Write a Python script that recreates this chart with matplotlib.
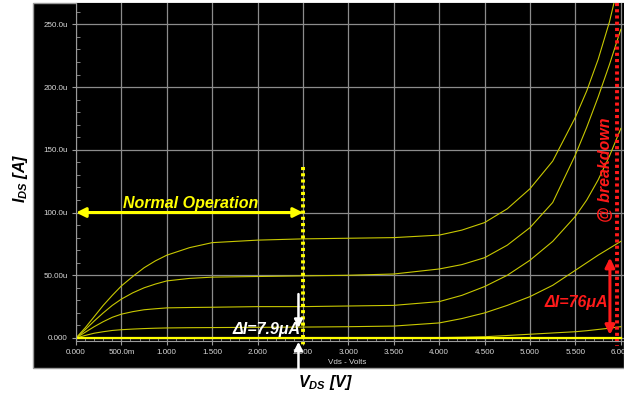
import matplotlib
matplotlib.use("Agg")
import matplotlib.pyplot as plt
from matplotlib.patches import Rectangle
from matplotlib.ticker import MultipleLocator, FixedLocator, FixedFormatter

plt.rcParams['font.family'] = ['Liberation Sans', 'DejaVu Sans']
plt.rcParams['mathtext.fontset'] = 'custom'
plt.rcParams['mathtext.it'] = 'Liberation Sans:italic:bold'
plt.rcParams['mathtext.rm'] = 'Liberation Sans:bold'

# Vds sweep (V) and drain current per gate step (uA)
vds = [0.0, 0.1, 0.2, 0.3, 0.4, 0.5, 0.625, 0.75, 0.875, 1.0, 1.25, 1.5,
       2.0, 2.5, 3.0, 3.5, 4.0, 4.25, 4.5, 4.75, 5.0, 5.25, 5.5, 5.625,
       5.75, 5.875, 6.0]
ids_a = [0, 8, 17, 26, 34, 41.5, 49, 56, 61.5, 66, 72, 76,
         78, 79, 79.5, 80, 82, 86, 92, 103, 119, 141, 176, 197,
         222, 252, 290]
ids_b = [0, 6.5, 13.5, 20, 26, 31, 36, 40, 43, 45.5, 47.5, 48.5,
         49, 49.5, 50, 51, 55, 58.5, 64, 74, 88, 108, 146, 168,
         192, 218, 246]
ids_c = [0, 4.5, 9, 13, 16.5, 19, 21, 22.5, 23.3, 24, 24.3, 24.5,
         25, 25, 25.5, 26, 29, 34, 41, 50, 62, 77, 97, 110,
         126, 145, 167]
ids_d = [0, 2, 3.8, 5, 6, 6.6, 7.1, 7.5, 7.8, 8, 8.2, 8.3,
         8.5, 8.7, 9, 9.5, 12, 15.5, 20, 26, 33, 42, 54, 60,
         66, 71.5, 77]
ids_e = [0, 0.2, 0.3, 0.3, 0.3, 0.3, 0.3, 0.3, 0.3, 0.3, 0.3, 0.3,
         0.3, 0.3, 0.3, 0.3, 0.3, 0.6, 1, 2, 3, 4, 5, 5.8,
         6.8, 7.8, 9]
ids_f = [0] * len(vds)
curves = [ids_a, ids_b, ids_c, ids_d, ids_e]

xticks = [0.0, 0.5, 1.0, 1.5, 2.0, 2.5, 3.0, 3.5, 4.0, 4.5, 5.0, 5.5, 6.0]
xlabels = ['0.000', '500.0m', '1.000', '1.500', '2.000', '2.500', '3.000',
           '3.500', '4.000', '4.500', '5.000', '5.500', '6.000']
yticks = [0, 50, 100, 150, 200, 250]
ylabels = ['0.000', '50.00u', '100.0u', '150.0u', '200.0u', '250.0u']

W, H = 624, 395
fig = plt.figure(figsize=(W / 100, H / 100), dpi=100)
fig.patch.set_facecolor('white')

# black scope window behind the plot
fig.patches.append(Rectangle((33 / W, 27 / H), 1 - 33 / W, 365 / H,
                             transform=fig.transFigure, facecolor='black',
                             edgecolor='#9a9a9a', linewidth=1, zorder=-5))

ax = fig.add_axes([76 / W, 54 / H, 548 / W, 338 / H])
ax.set_zorder(1)
ax.set_facecolor('black')
ax.set_xlim(0, 6.035)
ax.set_ylim(-2.4, 267)

for s in ['top', 'right']:
    ax.spines[s].set_visible(False)
for s in ['left', 'bottom']:
    ax.spines[s].set_color('#9a9a9a')

ax.xaxis.set_major_locator(FixedLocator(xticks))
ax.xaxis.set_major_formatter(FixedFormatter(xlabels))
ax.yaxis.set_major_locator(FixedLocator(yticks))
ax.yaxis.set_major_formatter(FixedFormatter(ylabels))
ax.xaxis.set_minor_locator(MultipleLocator(0.1))
ax.yaxis.set_minor_locator(MultipleLocator(10))
ax.tick_params(which='major', direction='out', length=3, color='#9a9a9a',
               labelcolor='#d8d8d8', labelsize=5.8, pad=3)
ax.tick_params(which='minor', direction='in', length=3, color='#9a9a9a')
ax.grid(True, which='major', color='#8c8c8c', linewidth=0.9)
ax.set_axisbelow(True)

for ids in curves:
    ax.plot(vds, ids, color='#c8c800', linewidth=0.8)
ax.plot(vds, ids_f, color='#ffff00', linewidth=1.6)

# normal operation span
ax.annotate('', xy=(0.0, 100), xytext=(2.5, 100),
            arrowprops=dict(arrowstyle='<|-|>', color='#ffff00', lw=2.2,
                            mutation_scale=14, shrinkA=0, shrinkB=0))
ax.text(1.26, 107, 'Normal Operation', color='#ffff00', fontsize=11.5,
        fontweight='bold', fontstyle='italic', ha='center', va='center')
ax.plot([2.5, 2.5], [136, -6], color='#ffff00', linewidth=2.8,
        linestyle=(0, (0.8, 0.8)), clip_on=False)

# delta I at 2.5 V
ax.annotate('', xy=(2.45, 8), xytext=(2.45, 35),
            arrowprops=dict(arrowstyle='-|>', color='white', lw=1.8,
                            mutation_scale=12, shrinkA=0, shrinkB=0))
ax.annotate('', xy=(2.45, -3), xytext=(2.45, -27),
            arrowprops=dict(arrowstyle='-|>', color='white', lw=1.8,
                            mutation_scale=12, shrinkA=0, shrinkB=0),
            annotation_clip=False)
ax.text(2.47, 6.4, 'ΔI=7.9μA', color='white', fontsize=11.5,
        fontweight='bold', fontstyle='italic', ha='right', va='center')

# breakdown
ax.plot([5.96, 5.96], [267, -6], color='#ff1a1a', linewidth=2.8,
        linestyle=(0, (0.8, 0.8)), clip_on=False)
ax.text(5.83, 134, '@ breakdown', color='#ff1a1a', fontsize=11.5,
        fontweight='bold', fontstyle='italic', rotation=90,
        ha='center', va='center')
ax.annotate('', xy=(5.88, 2.5), xytext=(5.88, 64),
            arrowprops=dict(arrowstyle='<|-|>', color='#ff1a1a', lw=2.2,
                            mutation_scale=14, shrinkA=0, shrinkB=0))
ax.text(5.86, 28, 'ΔI=76μA', color='#ff1a1a', fontsize=11.5,
        fontweight='bold', fontstyle='italic', ha='right', va='center')

fig.text(347 / W, 1 - 362 / H, 'Vds - Volts', color='#d8d8d8', fontsize=5.8,
         ha='center', va='center')
fig.text(20 / W, 1 - 178 / H, r'$I_{DS}$ [A]', fontsize=11.5, fontweight='bold',
         fontstyle='italic', rotation=90, ha='center', va='center')
fig.text(325 / W, 1 - 383 / H, r'$V_{DS}$ [V]', fontsize=11.5, fontweight='bold',
         fontstyle='italic', ha='center', va='center')

fig.savefig('out.png', dpi=100, facecolor='white')
